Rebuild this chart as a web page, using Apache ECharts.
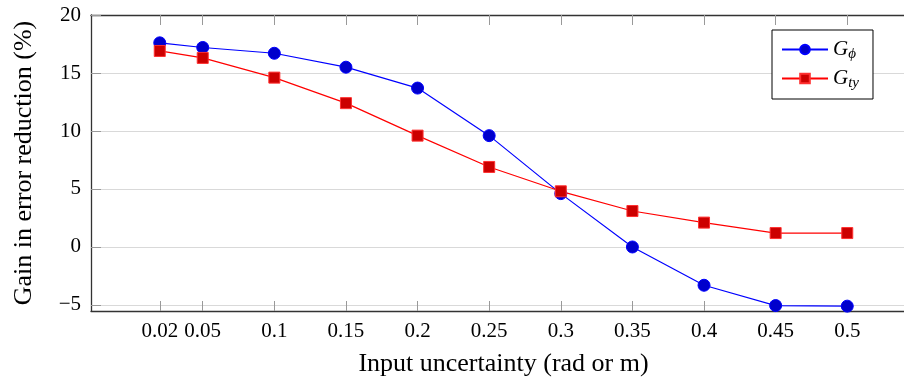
<!DOCTYPE html>
<html>
<head>
<meta charset="utf-8">
<script src="https://cdn.jsdelivr.net/npm/echarts@6/dist/echarts.min.js"></script>
<style>
  html, body { margin: 0; padding: 0; background: #fff; }
  #chart { width: 904px; height: 379px; }
</style>
</head>
<body>
<div id="chart"></div>
<script>
// input uncertainty (rad or m)
var xValues = [0.02, 0.05, 0.1, 0.15, 0.2, 0.25, 0.3, 0.35, 0.4, 0.45, 0.5];
var xTickLabels = ['0.02', '0.05', '0.1', '0.15', '0.2', '0.25', '0.3', '0.35', '0.4', '0.45', '0.5'];
// gain in error reduction (%)
var gPhi = [17.6, 17.2, 16.7, 15.5, 13.7, 9.6, 4.6, 0.0, -3.3, -5.05, -5.1];
var gTy = [16.9, 16.3, 14.6, 12.4, 9.6, 6.9, 4.8, 3.1, 2.1, 1.2, 1.2];
var yTicks = [-5, 0, 5, 10, 15, 20];

var font = 'Liberation Serif';

function pairs(ys) {
    var out = [];
    for (var i = 0; i < xValues.length; i++) {
        out.push([xValues[i], ys[i]]);
    }
    return out;
}

var chart = echarts.init(document.getElementById('chart'));

var option = {
    animation: false,
    backgroundColor: '#fff',
    // right edge of the frame sits just outside the picture, like the original
    grid: { left: 91, top: 15, width: 825, bottom: 68, outerBoundsMode: 'none', containLabel: false },
    legend: {
        orient: 'vertical',
        left: 772,
        top: 30,
        padding: [9, 14, 8, 9],
        itemGap: 6,
        itemWidth: 46,
        itemHeight: 12,
        backgroundColor: '#fff',
        borderColor: '#000',
        borderWidth: 1,
        borderRadius: 0,
        data: ['G_phi', 'G_ty'],
        formatter: function (name) {
            if (name === 'G_phi') return '{g|G}{s|ϕ}';
            return '{g|G}{s|ty}';
        },
        textStyle: {
            rich: {
                g: { fontFamily: font, fontStyle: 'italic', fontSize: 21, color: '#000' },
                s: { fontFamily: font, fontStyle: 'italic', fontSize: 15, color: '#000', padding: [10, 0, 0, 0] }
            }
        }
    },
    xAxis: [{
        type: 'value',
        min: -0.028,
        max: 0.548,
        name: 'Input uncertainty (rad or m)',
        nameLocation: 'middle',
        nameGap: 40,
        nameTextStyle: { fontFamily: font, fontSize: 26, color: '#000' },
        axisLine: { show: true, onZero: false, lineStyle: { color: '#333', width: 1.3 } },
        axisTick: { show: true, inside: true, length: 10, customValues: xValues, lineStyle: { color: '#999' } },
        axisLabel: {
            customValues: xValues,
            margin: 10,
            fontFamily: font,
            fontSize: 21,
            color: '#000',
            formatter: function (v) {
                var i = xValues.indexOf(v);
                return i >= 0 ? xTickLabels[i] : '';
            }
        },
        splitLine: { show: false }
    }, {
        type: 'value',
        position: 'top',
        min: -0.028,
        max: 0.548,
        axisLine: { show: true, onZero: false, lineStyle: { color: '#333', width: 1.3 } },
        axisTick: { show: true, inside: true, length: 10, customValues: xValues, lineStyle: { color: '#999' } },
        axisLabel: { show: false },
        splitLine: { show: false }
    }],
    yAxis: {
        type: 'value',
        min: -5.52,
        max: 20,
        splitNumber: 5,
        name: 'Gain in error reduction (%)',
        nameLocation: 'middle',
        nameGap: 54,
        nameTextStyle: { fontFamily: font, fontSize: 26, color: '#000' },
        axisLine: { show: true, onZero: false, lineStyle: { color: '#333', width: 1.3 } },
        axisTick: { show: true, inside: true, length: 10, customValues: yTicks, lineStyle: { color: '#999' } },
        axisLabel: {
            customValues: yTicks,
            margin: 10,
            fontFamily: font,
            fontSize: 21,
            color: '#000',
            formatter: function (v) {
                return v < 0 ? '\u2212' + Math.abs(v) : String(v);
            }
        },
        splitLine: { show: true, lineStyle: { color: '#d9d9d9', width: 1.2 } }
    },
    series: [{
        name: 'G_phi',
        type: 'line',
        data: pairs(gPhi),
        symbol: 'circle',
        symbolSize: 12,
        lineStyle: { color: '#0000ff', width: 1.2 },
        itemStyle: { color: '#0000cc', borderColor: '#0000ff', borderWidth: 1 }
    }, {
        name: 'G_ty',
        type: 'line',
        data: pairs(gTy),
        symbol: 'rect',
        symbolSize: 11,
        lineStyle: { color: '#ff0000', width: 1.2 },
        itemStyle: { color: '#cc0000', borderColor: '#ff3030', borderWidth: 1 }
    }]
};

chart.setOption(option);
</script>
</body>
</html>
